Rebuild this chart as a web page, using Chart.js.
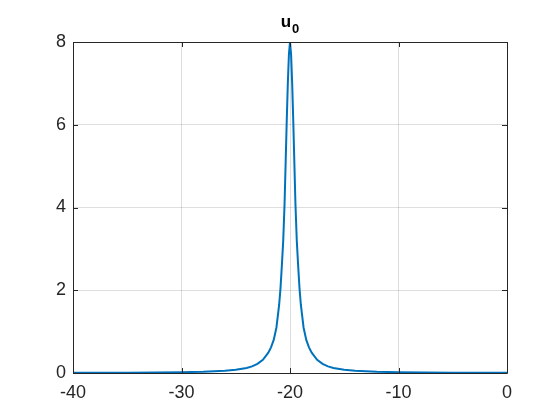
<!DOCTYPE html>
<html>
<head>
<meta charset="utf-8">
<script src="https://cdn.jsdelivr.net/npm/chart.js@4"></script>
<style>
  html, body { margin: 0; padding: 0; background: #fff; }
  #wrap { width: 560px; height: 420px; }
</style>
</head>
<body>
<div id="wrap"><canvas id="u0chart" width="560" height="420"></canvas></div>
<script>
// readings
var u0_x = [-40, -35, -30, -28, -26, -25, -24, -23.5, -23, -22.5, -22, -21.75, -21.5, -21.25,
  -21, -20.875, -20.75, -20.625, -20.5, -20.4, -20.3, -20.2, -20.1, -20,
  -19.9, -19.8, -19.7, -19.6, -19.5, -19.375, -19.25, -19.125, -19,
  -18.75, -18.5, -18.25, -18, -17.5, -17, -16.5, -16, -15, -14, -12, -10, -5, 0];
var u0_y = [0.005, 0.008, 0.02, 0.03, 0.055, 0.08, 0.12, 0.16, 0.22, 0.32, 0.49, 0.62, 0.8, 1.1,
  1.65, 2.05, 2.6, 3.2, 4.1, 5.1, 6.1, 7.0, 7.7, 8,
  7.7, 7.0, 6.1, 5.1, 4.1, 3.2, 2.6, 2.05, 1.65,
  1.1, 0.8, 0.62, 0.49, 0.32, 0.22, 0.16, 0.12, 0.08, 0.055, 0.03, 0.02, 0.008, 0.005];
var x_ticks = [-40, -30, -20, -10, 0];
var y_ticks = [0, 2, 4, 6, 8];
var title_main = 'u';
var title_sub = '0';

var pts = [];
for (var i = 0; i < u0_x.length; i++) {
  pts.push({x: u0_x[i], y: u0_y[i]});
}

var axisColor = '#262626';
var fontFam = '"Liberation Sans", Arial, Helvetica, sans-serif';

// box round the axes, inward ticks and the title (matlab look)
var boxPlugin = {
  id: 'boxPlugin',
  afterDraw: function (chart) {
    var c = chart.ctx, a = chart.chartArea;
    var sx = chart.scales.x, sy = chart.scales.y;
    c.save();
    c.strokeStyle = axisColor;
    c.lineWidth = 1;
    c.beginPath();
    c.rect(Math.round(a.left) + 0.5, Math.round(a.top) + 0.5,
      Math.round(a.right - a.left), Math.round(a.bottom - a.top));
    c.stroke();
    c.beginPath();
    x_ticks.forEach(function (v) {
      var px = Math.round(sx.getPixelForValue(v)) + 0.5;
      c.moveTo(px, a.bottom); c.lineTo(px, a.bottom - 5);
      c.moveTo(px, a.top); c.lineTo(px, a.top + 5);
    });
    y_ticks.forEach(function (v) {
      var py = Math.round(sy.getPixelForValue(v)) + 0.5;
      c.moveTo(a.left, py); c.lineTo(a.left + 5, py);
      c.moveTo(a.right, py); c.lineTo(a.right - 5, py);
    });
    c.stroke();
    // title u_0
    c.fillStyle = '#000';
    c.textBaseline = 'alphabetic';
    c.font = 'bold 17px ' + fontFam;
    var w1 = c.measureText(title_main).width;
    c.font = 'bold 13px ' + fontFam;
    var w2 = c.measureText(title_sub).width;
    var cx = (a.left + a.right) / 2;
    var x0 = cx - (w1 + w2 + 1) / 2;
    c.font = 'bold 17px ' + fontFam;
    c.fillText(title_main, x0, 27);
    c.font = 'bold 13px ' + fontFam;
    c.fillText(title_sub, x0 + w1 + 1, 33);
    c.restore();
  }
};

var ctx_u0 = document.getElementById('u0chart');
var u0chart = new Chart(ctx_u0, {
  type: 'line',
  data: {
    datasets: [
      {
        label: 'u0',
        data: pts,
        borderColor: '#0072BD',
        borderWidth: 2,
        pointRadius: 0,
        tension: 0,
        fill: false,
      },
    ],
  },
  options: {
    responsive: false,
    animation: false,
    layout: {
      padding: {left: 0, right: 53, top: 42, bottom: 0}
    },
    scales: {
      x: {
        type: 'linear',
        min: -40,
        max: 0,
        afterFit: function (s) { s.height = 47; },
        afterBuildTicks: function (s) { s.ticks = x_ticks.map(function (v) { return {value: v}; }); },
        grid: {color: 'rgba(0,0,0,0.13)', drawTicks: false},
        border: {display: false},
        ticks: {color: axisColor, padding: 9, font: {family: fontFam, size: 18}, maxRotation: 0}
      },
      y: {
        min: 0,
        max: 8,
        afterFit: function (s) { s.width = 73; },
        afterBuildTicks: function (s) { s.ticks = y_ticks.map(function (v) { return {value: v}; }); },
        grid: {color: 'rgba(0,0,0,0.13)', drawTicks: false},
        border: {display: false},
        ticks: {color: axisColor, padding: 7, font: {family: fontFam, size: 18}}
      }
    },
    plugins: {
      legend: {display: false},
      tooltip: {enabled: false},
      title: {display: false}
    }
  },
  plugins: [boxPlugin]
});
</script>
</body>
</html>
